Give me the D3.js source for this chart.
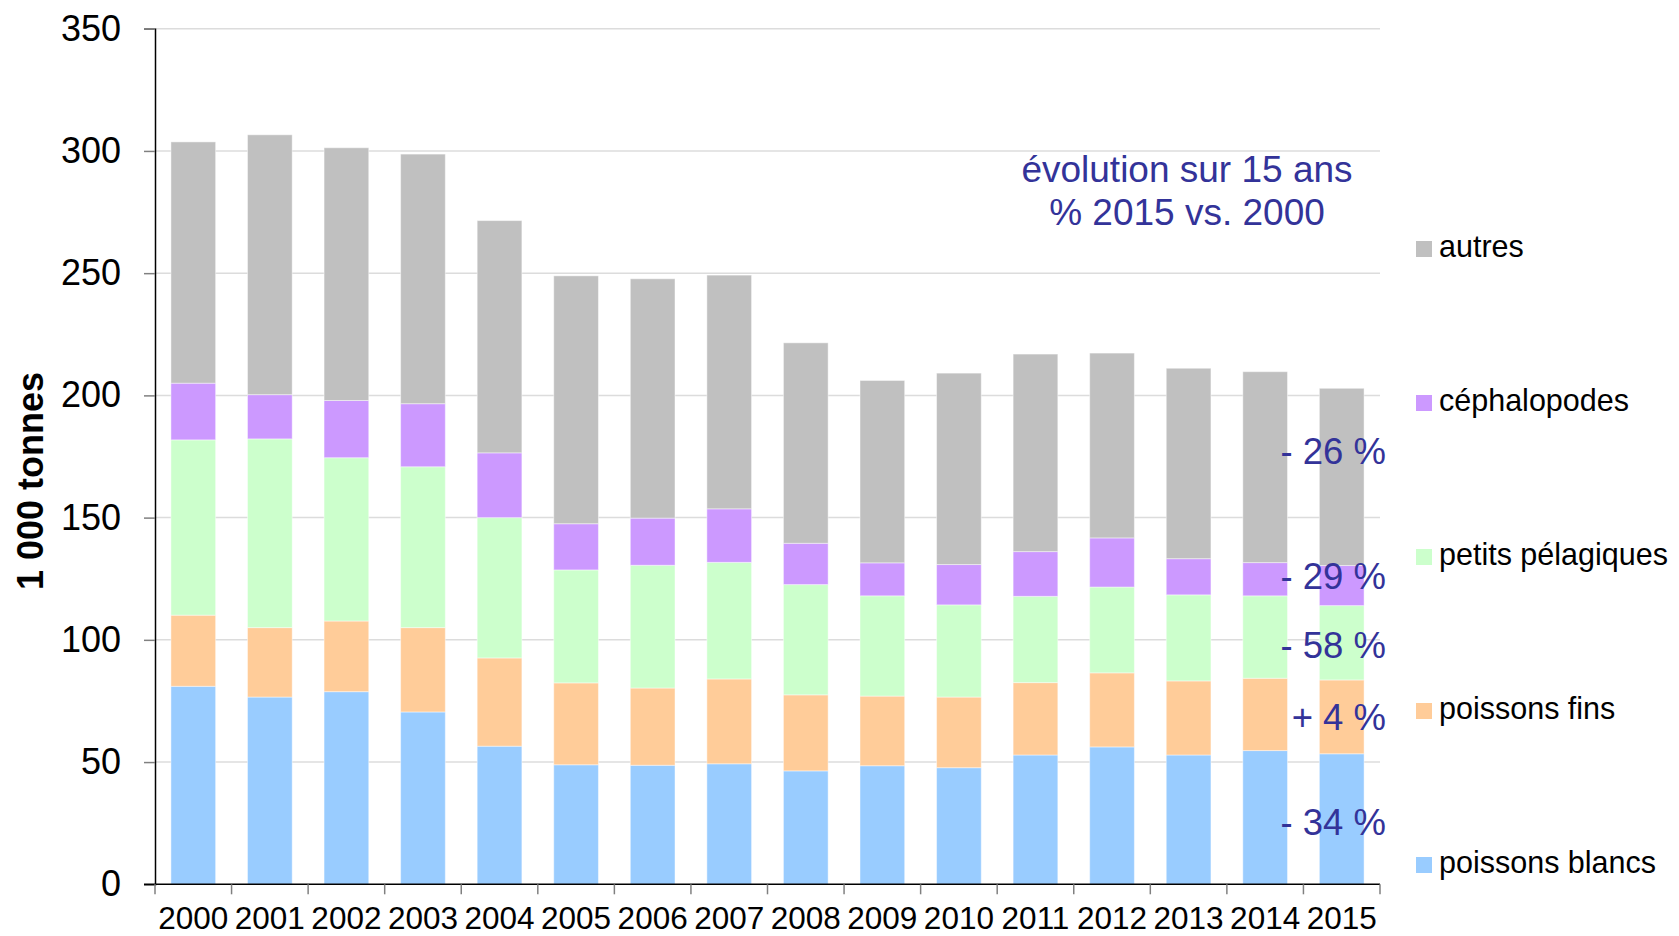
<!DOCTYPE html>
<html>
<head>
<meta charset="utf-8">
<script src="https://cdnjs.cloudflare.com/ajax/libs/d3/7.8.5/d3.min.js"></script>
<style>
  body { margin: 0; background: #fff; }
  svg text { font-family: "Liberation Sans", Arial, sans-serif; }
  .grid line { stroke: #dcdcdc; stroke-width: 1.5px; }
</style>
</head>
<body>
<svg id="chart"></svg>
<script>
// *********************************************
// DATA (1 000 tonnes)
// *********************************************
var years = ["2000","2001","2002","2003","2004","2005","2006","2007","2008","2009","2010","2011","2012","2013","2014","2015"];

var blancs     = [81.0, 76.6, 78.8, 70.5, 56.5, 48.9, 48.7, 49.3, 46.4, 48.5, 47.7, 52.9, 56.2, 52.9, 54.7, 53.4];
var fins       = [29.1, 28.4, 28.9, 34.5, 36.1, 33.5, 31.6, 34.7, 31.1, 28.5, 28.9, 29.6, 30.3, 30.3, 29.6, 30.2];
var pelagiques = [71.7, 77.2, 66.8, 65.8, 57.4, 46.2, 50.2, 47.7, 45.1, 41.0, 37.7, 35.3, 35.1, 35.2, 33.7, 30.4];
var cephalo    = [23.2, 18.1, 23.4, 25.8, 26.5, 18.9, 19.3, 21.9, 16.9, 13.5, 16.5, 18.3, 20.1, 14.8, 13.6, 16.4];
var autres     = [98.7, 106.3, 103.4, 102.1, 95.0, 101.4, 97.9, 95.6, 82.0, 74.6, 78.3, 80.8, 75.6, 77.9, 78.1, 72.5];

var seriesKeys   = ["blancs","fins","pelagiques","cephalo","autres"];
var seriesNames  = ["poissons blancs","poissons fins","petits pélagiques","céphalopodes","autres"];
var seriesColors = ["#99ccff","#ffcc99","#ccffcc","#cc99ff","#c0c0c0"];

var yTicks = [0, 50, 100, 150, 200, 250, 300, 350];

var noteLines = ["évolution sur 15 ans", "% 2015 vs. 2000"];
var pctLabels = ["- 34 %", "+ 4 %", "- 58 %", "- 29 %", "- 26 %"];
var pctAt     = [20, 63, 92.5, 121, 172];   // where each label sits, in 1 000 t

// *********************************************
// SETUP
// *********************************************
var W = 1679, H = 936;
var mLeft = 155, mRight = 1380, mTop = 28.7, mBottom = 884.3;

var svg = d3.select("#chart").attr("width", W).attr("height", H);

var table = years.map(function(yr, i) {
  return {year: yr, blancs: blancs[i], fins: fins[i], pelagiques: pelagiques[i], cephalo: cephalo[i], autres: autres[i]};
});
var stacked = d3.stack().keys(seriesKeys)(table);

var x = d3.scaleBand().domain(years).range([mLeft, mRight]).paddingInner(0.416).paddingOuter(0.208);
var xb = d3.scaleBand().domain(years).range([mLeft, mRight]);   // for tick positions
var y = d3.scaleLinear().domain([0, 350]).range([mBottom, mTop]);

// grid
svg.append("g").attr("class", "grid")
  .selectAll("line").data(yTicks.filter(d => d > 0)).enter().append("line")
    .attr("x1", mLeft).attr("x2", mRight)
    .attr("y1", d => y(d)).attr("y2", d => y(d));

// bars
svg.append("g").selectAll("g")
    .data(stacked).enter().append("g")
    .attr("fill", (d, i) => seriesColors[i])
  .selectAll("rect")
    .data(d => d).enter().append("rect")
    .attr("x", d => x(d.data.year))
    .attr("width", x.bandwidth())
    .attr("y", d => y(d[1]))
    .attr("height", d => y(d[0]) - y(d[1]))
    .attr("stroke", "rgba(255,255,255,0.45)")
    .attr("stroke-width", 1);

// *********************************************
// AXES
// *********************************************
var yAxis = svg.append("g").attr("transform", "translate(" + mLeft + ",0)")
  .call(d3.axisLeft(y).tickValues(yTicks).tickSize(11).tickPadding(23));
yAxis.select(".domain").attr("stroke", "#000").attr("stroke-width", 1.5);
yAxis.selectAll(".tick line").attr("stroke", "#808080").attr("stroke-width", 1.5);
yAxis.selectAll(".tick text").attr("font-size", 36).attr("fill", "#000")
  .attr("font-family", "Liberation Sans, Arial, sans-serif");

// x axis: ticks between bars
var xg = svg.append("g").attr("transform", "translate(0," + mBottom + ")");
xg.append("line").attr("x1", mLeft - 11).attr("x2", mRight).attr("stroke", "#000").attr("stroke-width", 1.5);
xg.selectAll(".xt").data(years.concat(["end"])).enter().append("line")
  .attr("class", "xt")
  .attr("x1", (d, i) => mLeft + i * xb.bandwidth())
  .attr("x2", (d, i) => mLeft + i * xb.bandwidth())
  .attr("y1", 0).attr("y2", 10)
  .attr("stroke", "#808080").attr("stroke-width", 1.5);
xg.selectAll("text").data(years).enter().append("text")
  .attr("x", d => xb(d) + xb.bandwidth() / 2)
  .attr("y", 45)
  .attr("text-anchor", "middle")
  .attr("font-size", 31.5)
  .text(d => d);

// y title
svg.append("text")
  .attr("transform", "translate(43,481)rotate(-90)")
  .attr("text-anchor", "middle")
  .attr("font-size", 36).attr("font-weight", "bold")
  .text("1 000 tonnes");

// *********************************************
// ANNOTATIONS + LEGEND
// *********************************************
svg.selectAll(".note").data(noteLines).enter().append("text")
  .attr("class", "note")
  .attr("x", 1187).attr("y", (d, i) => 181.7 + i * 43.5)
  .attr("text-anchor", "middle")
  .attr("font-size", 37).attr("fill", "#333399")
  .text(d => d);

svg.selectAll(".pct").data(pctLabels).enter().append("text")
  .attr("class", "pct")
  .attr("x", 1386).attr("y", (d, i) => y(pctAt[i]))
  .attr("text-anchor", "end")
  .attr("font-size", 36.5).attr("fill", "#333399")
  .text(d => d);

var leg = svg.append("g").selectAll("g")
  .data(seriesNames.slice().reverse()).enter().append("g")
  .attr("transform", (d, i) => "translate(1416," + (257 + i * 154) + ")");
leg.append("rect")
  .attr("x", 0).attr("y", -16).attr("width", 16).attr("height", 16)
  .attr("fill", (d, i) => seriesColors[seriesColors.length - 1 - i]);
leg.append("text")
  .attr("x", 23).attr("y", 0)
  .attr("font-size", 30.5)
  .text(d => d);
</script>
</body>
</html>
